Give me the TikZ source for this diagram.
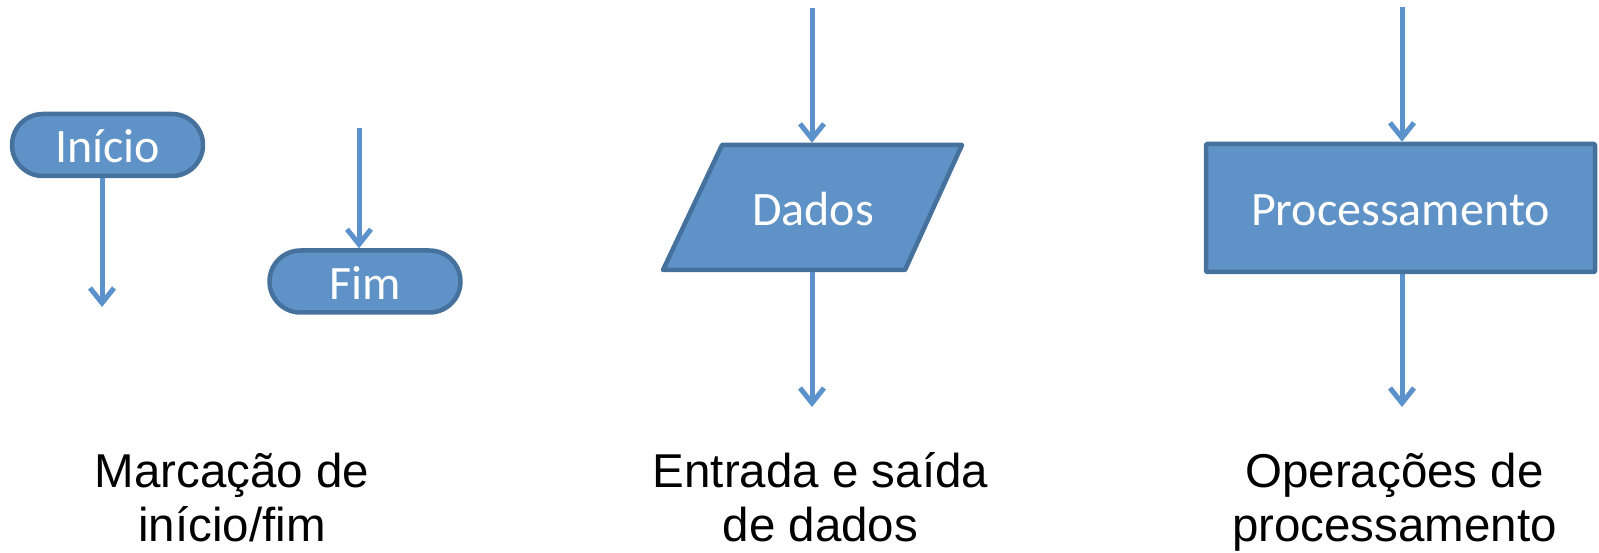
\documentclass[tikz,border=0pt]{standalone}
\usepackage{fontspec}
\setmainfont{Carlito}
\newfontfamily\capfont{Liberation Sans}
\usetikzlibrary{arrows.meta,calc}
\definecolor{shapefill}{HTML}{5F92C7}
\definecolor{shapeborder}{HTML}{45719C}
\definecolor{arrowblue}{HTML}{5B92CB}
\tikzset{
  shapeline/.style={draw=shapeborder, fill=shapefill, line width=4.5pt, line join=round},
  nodetext/.style={text=white, font=\fontsize{48}{52}\selectfont, inner sep=0pt, text height=40pt, text depth=4pt},
  terminal/.style={shapeline, nodetext, rectangle, rounded corners=31pt, minimum width=191pt, minimum height=62pt},
  procbox/.style={shapeline, nodetext, rectangle, rounded corners=1pt, minimum width=389pt, minimum height=128pt},
  flow/.style={draw=arrowblue, line width=5pt, -{Straight Barb[length=15pt,width=24pt,line width=5pt]}},
  caption/.style={font=\capfont\fontsize{47.5}{54}\selectfont, align=center, inner sep=0pt}
}
\begin{document}
\begin{tikzpicture}[x=1pt,y=-1pt]
\useasboundingbox (0,0) rectangle (1599,553);
% start / end
\node[terminal] (inicio) at (107.5,145) {Início};
\node[terminal] (fim) at (365,281.5) {Fim};
\coordinate (inicioout) at (102,307);
\draw[flow] (inicioout |- inicio.south) -- (inicioout);
\coordinate (fimin) at (359,128);
\draw[flow] (fimin) -- (fimin |- fim.north);
% data
\coordinate (dc) at (813,207.5);
\draw[shapeline] ($(dc)+(-91,-62.5)$) -- ($(dc)+(149,-62.5)$) -- ($(dc)+(92,62.5)$) -- ($(dc)+(-150,62.5)$) -- cycle;
\node[nodetext, line width=4.5pt, minimum width=240pt, minimum height=125pt] (dados) at (dc) {Dados};
\coordinate (dadosin) at (812,8);
\coordinate (dadosout) at (812,407);
\draw[flow] (dadosin) -- (dadosin |- dados.north);
\draw[flow] (dadosout |- dados.south) -- (dadosout);
% process
\node[procbox] (proc) at (1400.5,208) {Processamento};
\coordinate (procin) at (1402,7);
\coordinate (procout) at (1402,407);
\draw[flow] (procin) -- (procin |- proc.north);
\draw[flow] (procout |- proc.south) -- (procout);
% captions
\node[caption] (cap1) at (232,503.5) {\strut Marcação de\\\strut início/fim};
\node[caption] (cap2) at (820.5,503.5) {\strut Entrada e saída\\\strut de dados};
\node[caption] (cap3) at (1394.5,503.5) {\strut Operações de\\\strut processamento};
\end{tikzpicture}
\end{document}
